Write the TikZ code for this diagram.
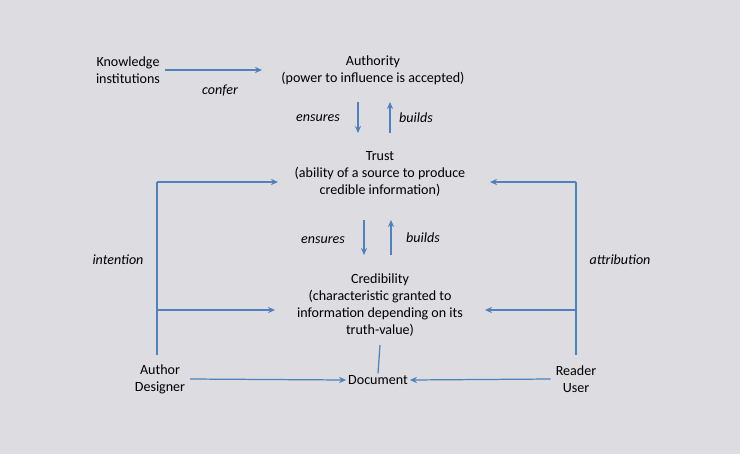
\documentclass[tikz,border=0pt]{standalone}
\usepackage{fontspec}
\setmainfont{Carlito}
\usetikzlibrary{arrows.meta, positioning}
\definecolor{bgGray}{HTML}{DCDCE1}
\definecolor{arrBlue}{HTML}{4F81BD}
\begin{document}
\begin{tikzpicture}[x = 0.02cm, y = -0.02cm,
  txt/.style = {align = center, font = \fontsize{8}{9.6}\selectfont, inner sep = 1pt},
  lbl/.style = {font = \fontsize{8}{9.6}\selectfont\itshape, inner sep = 1pt},
  conn/.style = {arrBlue, line width = 0.7pt, -{Stealth[length = 4pt, width = 3.5pt]}},
  plain/.style = {arrBlue, line width = 0.7pt}]
\fill[bgGray] (0,0) rectangle (740,454);
\node[txt] (inst) at (128,70) {Knowledge\\institutions};
\node[txt] (auth) at (373,70) {Authority\\(power to influence is accepted)};
\node[txt] (trust) at (380,174) {Trust\\(ability of a source to produce\\credible information)};
\node[txt] (cred) at (380,305) {Credibility\\(characteristic granted to\\information depending on its\\truth-value)};
\node[txt] (doc) at (378,380) {Document};
\node[txt] (author) at (160,379) {Author\\Designer};
\node[txt] (reader) at (576,379) {Reader\\User};
% vertical arrows
\draw[conn] (358,102) -- (358,133);
\draw[conn] (390,133) -- (390,102);
\draw[conn] (364,220) -- (364,255);
\draw[conn] (391,255) -- (391,220);
\node[lbl] (ens1) at (318,118) {ensures};
\node[lbl] (bld1) at (416,118) {builds};
\node[lbl] (ens2) at (323,240) {ensures};
\node[lbl] (bld2) at (423,238) {builds};
% horizontal
\draw[conn] (inst.east) ++(3,0) -- (262,70);
\node[lbl] (confer) at (220,90) {confer};
\draw[plain] (380,345) -- (doc.north);
\draw[conn] (author.east) ++(3,0) -- (doc.west);
\draw[conn] (reader.west) ++(-3,0) -- (doc.east);
% side frames
\coordinate (lt) at (157,182);
\coordinate (lb) at (157,355);
\coordinate (rt) at (576,182);
\coordinate (rb) at (576,355);
\draw[plain] (lb) -- (lt);
\draw[conn] (lt) -- (278,182);
\draw[conn] (157,310) -- (275,310);
\draw[plain] (rb) -- (rt);
\draw[conn] (rt) -- (490,182);
\draw[conn] (576,310) -- (485,310);
\node[lbl] (intent) at (118,260) {intention};
\node[lbl] (attrib) at (620,260) {attribution};
\end{tikzpicture}
\end{document}
